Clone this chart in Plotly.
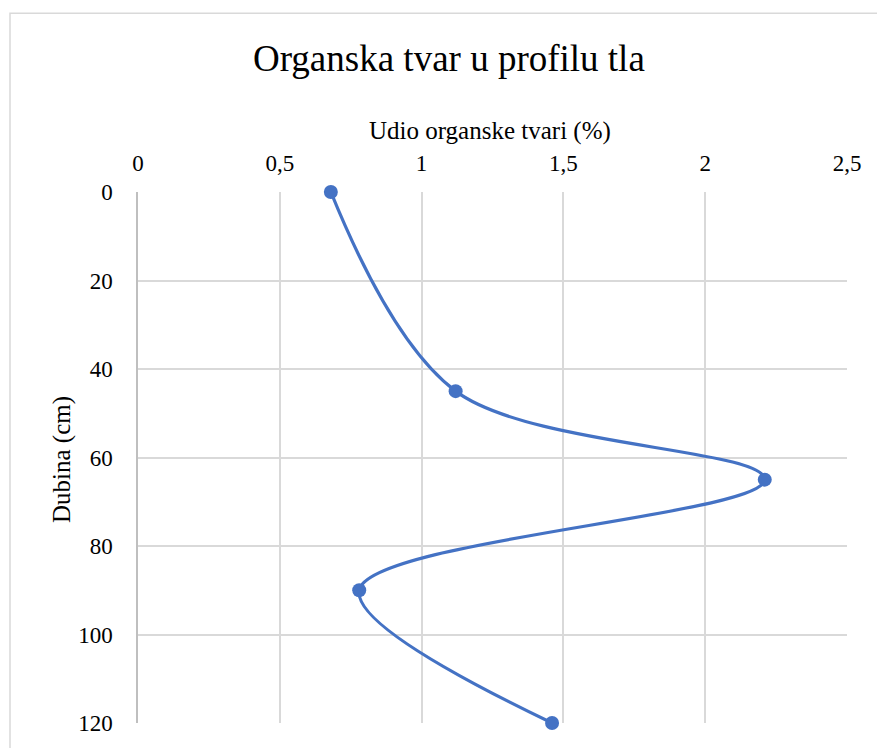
import plotly.graph_objects as go

# Data
udio = [0.68, 1.12, 2.21, 0.78, 1.46]
dubina = [0, 45, 65, 90, 120]
x_tickvals = [0, 0.5, 1, 1.5, 2, 2.5]
x_ticktext = ["0", "0,5", "1", "1,5", "2", "2,5"]
y_tickvals = [0, 20, 40, 60, 80, 100, 120]

title_text = "Organska tvar u profilu tla"
x_title = "Udio organske tvari (%)"
y_title = "Dubina (cm)"

W, H = 877, 748
L, T = 138, 192
R = W - 847
B = H - 727
pw, ph = W - L - R, H - T - B

def px2x(px):
    return (px - L) / pw

def py2y(py):
    return 1 - (py - T) / ph

FONT = "Liberation Serif, Times New Roman, serif"
BLUE = "#4472C4"

fig = go.Figure()
fig.add_trace(go.Scatter(
    x=udio, y=dubina, mode="lines+markers",
    line=dict(color=BLUE, width=3.2, shape="spline", smoothing=1),
    marker=dict(color=BLUE, size=14),
    showlegend=False, cliponaxis=False,
))

fig.update_layout(
    width=W, height=H,
    margin=dict(l=L, r=R, t=T, b=B, pad=0),
    paper_bgcolor="white", plot_bgcolor="white",
    font=dict(family=FONT, color="#000000", size=23),
    xaxis=dict(
        side="top", range=[0, 2.5], tickvals=x_tickvals, ticktext=x_ticktext,
        showgrid=True, gridcolor="#d9d9d9", gridwidth=1.5,
        zeroline=False, showline=False, ticks="", ticklabelstandoff=15,
        tickfont=dict(size=23, family=FONT),
    ),
    yaxis=dict(
        range=[120, 0], tickvals=y_tickvals,
        showgrid=True, gridcolor="#d9d9d9", gridwidth=1.5,
        zeroline=False, showline=True, linecolor="#bfbfbf", linewidth=1.5,
        ticks="", ticklabelstandoff=19, tickfont=dict(size=23, family=FONT),
    ),
    annotations=[
        dict(text=title_text, x=px2x(449), y=py2y(57), xref="paper", yref="paper",
             showarrow=False, font=dict(size=37, family=FONT), xanchor="center", yanchor="middle"),
        dict(text=x_title, x=px2x(490), y=py2y(131), xref="paper", yref="paper",
             showarrow=False, font=dict(size=25, family=FONT), xanchor="center", yanchor="middle"),
        dict(text=y_title, x=px2x(62), y=py2y(462), xref="paper", yref="paper",
             showarrow=False, font=dict(size=25, family=FONT), textangle=-90,
             xanchor="center", yanchor="middle"),
    ],
    shapes=[
        dict(type="rect", xref="paper", yref="paper",
             x0=px2x(10), x1=px2x(900), y0=py2y(12), y1=py2y(800),
             line=dict(color="#d9d9d9", width=1.5), fillcolor="rgba(0,0,0,0)", layer="below"),
    ],
)

fig.write_html("out.html", config={"displayModeBar": False},
               post_script="document.body.style.margin='0';document.body.style.overflow='hidden';")
